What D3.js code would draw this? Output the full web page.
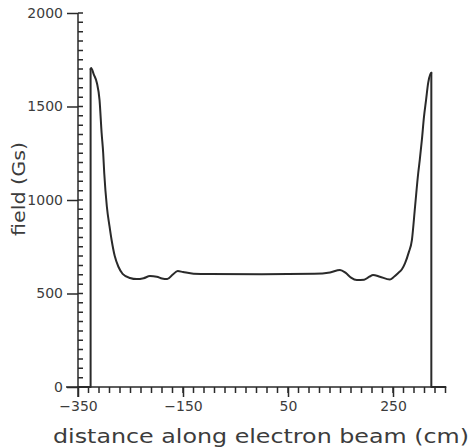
<!DOCTYPE html>
<html>
<head>
<meta charset="utf-8">
<script src="https://cdn.jsdelivr.net/npm/d3@7"></script>
<style>
  html, body { margin: 0; padding: 0; background: #fff; }
  svg { display: block; }
  text { font-family: "DejaVu Sans", sans-serif; fill: #3c3c3c; }
</style>
</head>
<body>
<svg id="chart" width="472" height="448"></svg>
<script>
// Axial magnetic field along the electron beam
const distance = [-350, -326, -326, -325, -320, -314, -309, -305, -302, -300, -295, -290, -286, -280, -273, -265,
  -251, -238, -225, -213, -200, -190, -180, -170, -160, -150, -130, -100, 0, 100, 130, 149, 160, 170, 181, 195,
  205, 212, 225, 244, 252, 260, 267, 273, 280, 286, 292, 298, 301, 305, 309, 313, 317, 321, 323, 323, 350];
const field = [0, 0, 1700, 1706, 1672, 1626, 1535, 1358, 1250, 1143, 964, 860, 786, 700, 643, 605,
  583, 577, 582, 593, 590, 580, 577, 600, 620, 615, 606, 604, 603, 605, 612, 626, 610, 585, 572, 574,
  590, 599, 590, 575, 590, 610, 630, 663, 720, 786, 964, 1143, 1214, 1321, 1444, 1535, 1626, 1672, 1680, 0, 0];

const xMajor = [-350, -150, 50, 250];
const xMinor = d3.range(-330, 351, 20);
const yMajor = [0, 500, 1000, 1500, 2000];
const yMinor = d3.range(0, 2001, 50);

const svg = d3.select("#chart");
const x = d3.scaleLinear().domain([-350, 350]).range([78, 445.5]);
const y = d3.scaleLinear().domain([0, 2000]).range([387, 13]);
const ink = "#2a2a2a";

const g = svg.append("g");
const styleTicks = (sel, w) => {
  sel.select(".domain").remove();
  sel.selectAll(".tick line").attr("stroke", ink).attr("stroke-width", w);
  sel.selectAll(".tick text").attr("font-size", 14).attr("fill", "#3c3c3c");
};

// labelled major ticks
g.append("g").attr("transform", `translate(0,${y(0)})`)
  .call(d3.axisBottom(x).tickValues(xMajor).tickSize(10).tickPadding(4)
    .tickFormat(d => d < 0 ? "\u2212" + Math.abs(d) : String(d)))
  .call(styleTicks, 1.5);
g.append("g").attr("transform", `translate(${x(-350)},0)`)
  .call(d3.axisLeft(y).tickValues(yMajor).tickSize(11).tickPadding(4).tickFormat(d3.format("d")))
  .call(styleTicks, 1.5);

// axis lines
g.append("path")
  .attr("d", `M${x(-350) - 12},${y(0)}H${x(350)}M${x(-350)},${y(0) + 10}V${y(2000)}`)
  .attr("fill", "none").attr("stroke", ink).attr("stroke-width", 1.5);

// minor ticks: every 20 cm below the x axis, every 50 Gs right of the y axis
const minorX = xMinor.map(v => `M${x(v)},${y(0)}v6`).join("");
const minorY = yMinor.map(v => `M${x(-350)},${y(v)}h5`).join("");
g.append("path").attr("d", minorX + minorY)
  .attr("fill", "none").attr("stroke", ink).attr("stroke-width", 1.5);

// field curve: straight jumps at the ends, smooth profile in between
const n = distance.length;
const idx = d3.range(n);
const px = i => x(distance[i]);
const py = i => y(field[i]);
const straight = d3.line().x(px).y(py);
const smooth = d3.line().x(px).y(py).curve(d3.curveMonotoneX);
const curveStyle = sel => sel.attr("fill", "none").attr("stroke", "#2a2a2a")
  .attr("stroke-width", 2).attr("stroke-linejoin", "round").attr("stroke-linecap", "round");
g.append("path").datum(idx.slice(0, 3)).attr("d", straight).call(curveStyle);
g.append("path").datum(idx.slice(2, n - 2)).attr("d", smooth).call(curveStyle);
g.append("path").datum(idx.slice(n - 3)).attr("d", straight).call(curveStyle);

// axis titles
svg.append("text").attr("x", 53).attr("y", 443).attr("font-size", 20)
  .attr("textLength", 416).attr("lengthAdjust", "spacingAndGlyphs")
  .text("distance along electron beam (cm)");
svg.append("text").attr("transform", "translate(25,236) rotate(-90)").attr("font-size", 17)
  .attr("textLength", 94).attr("lengthAdjust", "spacingAndGlyphs")
  .text("field (Gs)");
</script>
</body>
</html>
